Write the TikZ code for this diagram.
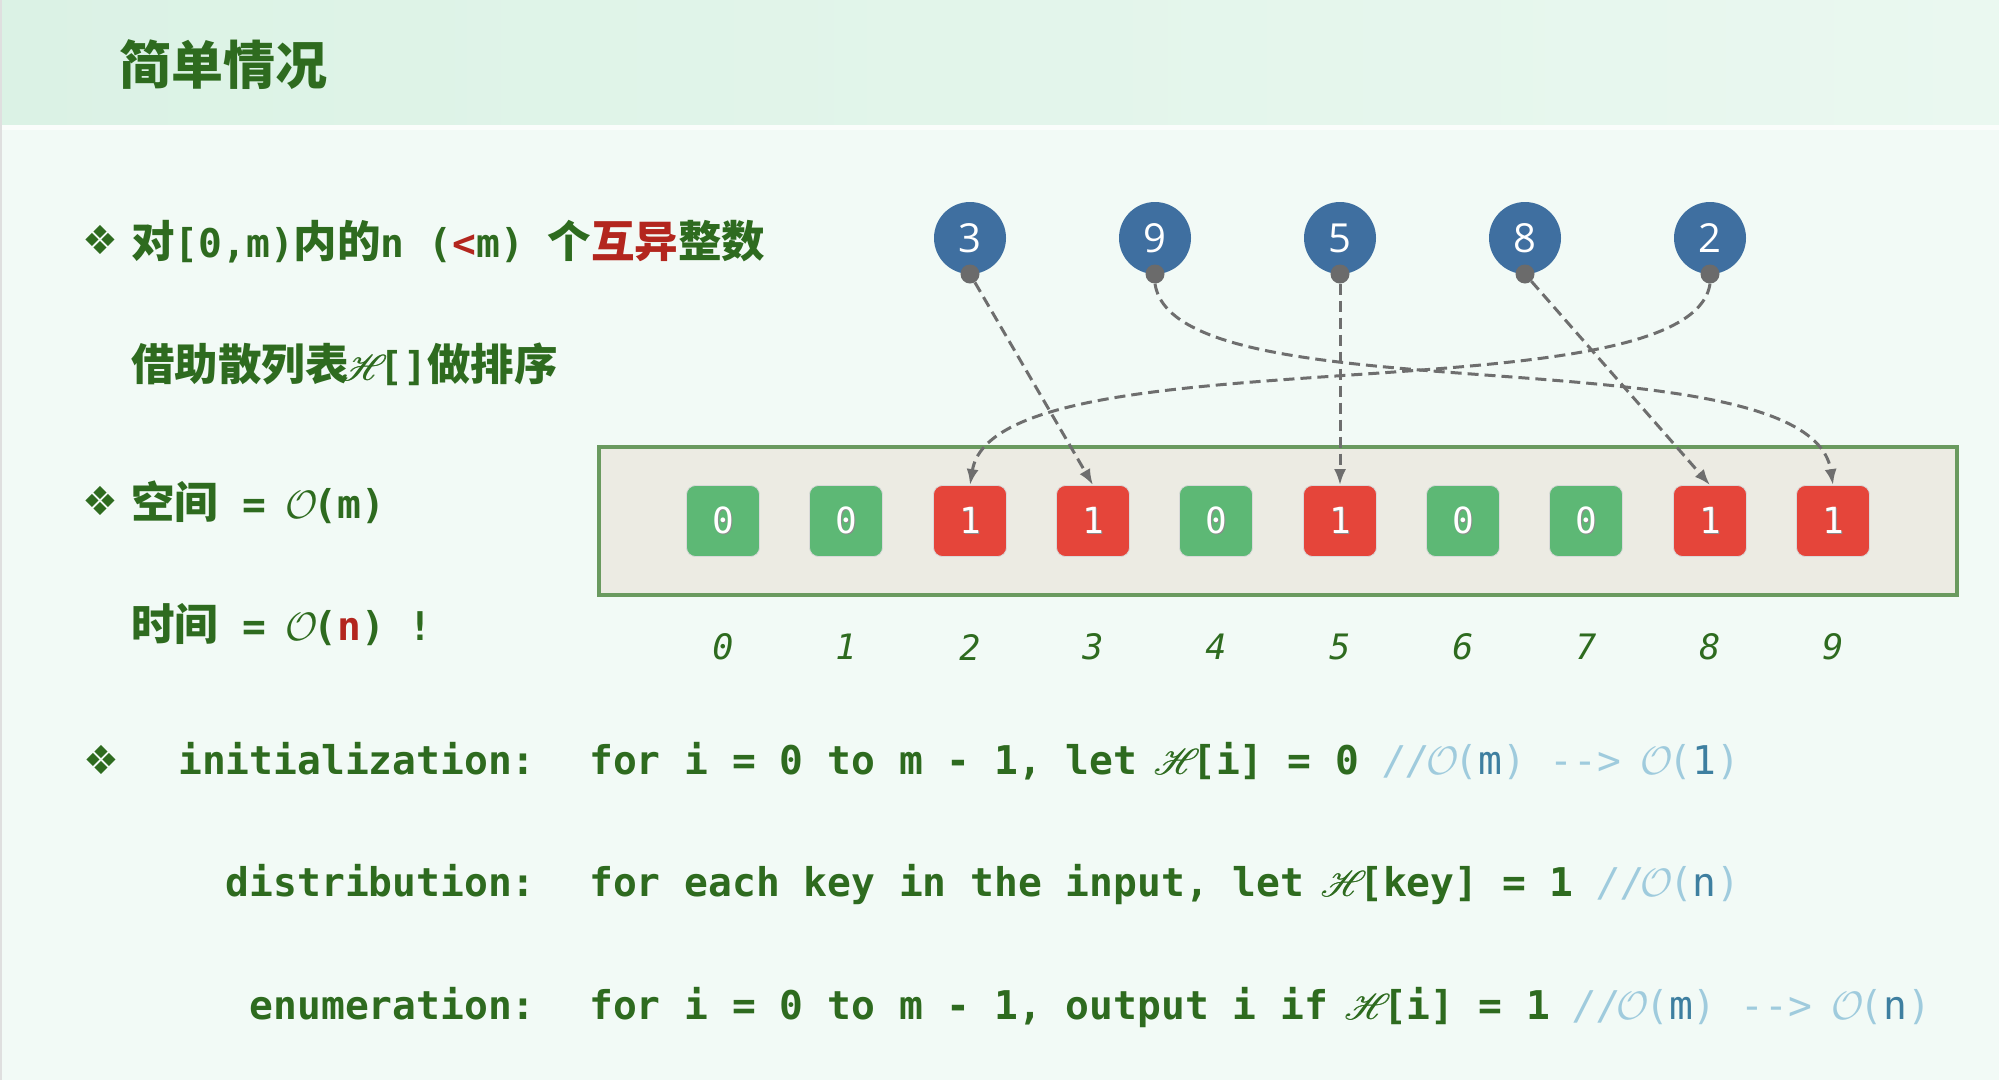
\documentclass[tikz,border=0pt]{standalone}
\usepackage{fix-cm}
\usepackage{fontspec}
\usepackage{mathrsfs}
\usetikzlibrary{arrows.meta}
\newfontfamily\cjk{Noto Sans CJK SC}
\newfontfamily\mono{DejaVu Sans Mono}
\newfontfamily\symf{DejaVu Sans}
\newfontfamily\digf{Open Sans}
\definecolor{tgreen}{HTML}{2E6B1F}
\definecolor{tred}{HTML}{B3261E}
\definecolor{bgc}{HTML}{F2FAF6}
\definecolor{bandl}{HTML}{DBF2E5}
\definecolor{bandr}{HTML}{EAF8F0}
\definecolor{keyblue}{HTML}{3F6FA0}
\definecolor{dotgray}{HTML}{6B6B6B}
\definecolor{conng}{HTML}{6E6E6E}
\definecolor{framegreen}{HTML}{6A9A5F}
\definecolor{framefill}{HTML}{ECEBE3}
\definecolor{cellgreen}{HTML}{5DB875}
\definecolor{cellred}{HTML}{E5453A}
\definecolor{cmt}{HTML}{9FCBDD}
\definecolor{cmd}{HTML}{3E7FA0}
\newcommand\cj[1]{{\cjk\bfseries\fontsize{43.5}{50}\selectfont #1}}
\newcommand\mo[1]{{\mono\bfseries\fontsize{39.6}{45}\selectfont #1}}
\newcommand\Hc{\makebox[0.78em]{\scalebox{1.45}{\rlap{$\mathscr{H}$}\kern0.5pt$\mathscr{H}$}}}
\newcommand\Oc{\makebox[0.6em]{$\mathcal{O}$}}
\newcommand\dsh{-\kern0pt-\kern0pt>}
\newcommand\shd[1]{\makebox[0pt][l]{\hspace{1.5pt}\raisebox{-1.5pt}{\textcolor{black!45}{#1}}}\textcolor{white}{#1}}
\tikzset{
  keyc/.style={circle, fill=keyblue, minimum size=72pt, inner sep=0pt, text=white, font=\digf\fontsize{40}{40}\selectfont},
  dotc/.style={circle, fill=dotgray, minimum size=19pt, inner sep=0pt},
  cellbox/.style={rounded corners=9pt, minimum width=73pt, minimum height=71pt, inner sep=0pt, draw=white!70!gray, line width=0.8pt, font=\mono\fontsize{36}{36}\selectfont},
  cellg/.style={cellbox, fill=cellgreen},
  cellr/.style={cellbox, fill=cellred},
  idx/.style={text=tgreen, font=\mono\itshape\fontsize{35}{35}\selectfont, inner sep=0pt},
  conn/.style={draw=conng, line width=3pt, dash pattern=on 11pt off 6pt, -{Latex[length=16pt,width=12pt]}},
  txt/.style={text=tgreen, inner sep=0pt, anchor=base west},
  lbl/.style={text=tgreen, inner sep=0pt, anchor=base east},
  bul/.style={text=tgreen, inner sep=0pt, font=\symf\fontsize{40}{40}\selectfont}
}
\begin{document}
\begin{tikzpicture}[x=1pt,y=-1pt]
\path[use as bounding box] (0,0) rectangle (1999,1080);
\fill[bgc] (0,0) rectangle (1999,1080);
\shade[left color=bandl, right color=bandr] (0,0) rectangle (1999,125);
\fill[white!60!bgc] (0,125) rectangle (1999,130);
\fill[gray!25] (0,0) rectangle (2,1080);
% title
\node[txt] (title) at (119,84) {{\cjk\bfseries\fontsize{52}{60}\selectfont 简单情况}};
% left text
\node[bul] (b1) at (100,240) {❖};
\node[txt] (l1) at (131,257) {\cj{对}\mo{[0,m)}\cj{内的}\mo{n (\textcolor{tred}{<}m) }\cj{个\textcolor{tred}{互异}整数}};
\node[txt] (l2) at (131,380) {\cj{借助散列表}\mo{\Hc[]}\cj{做排序}};
\node[bul] (b2) at (100,501) {❖};
\node[txt] (l3) at (131,518) {\cj{空间}\mo{ = \Oc(m)}};
\node[txt] (l4) at (131,640) {\cj{时间}\mo{ = \Oc(\textcolor{tred}{n}) !}};
% code lines
\node[bul] (b3) at (101,760) {❖};
\node[lbl] (c1l) at (536,774) {\mo{initialization:}};
\node[txt] (c1) at (589,774) {\mo{for i = 0 to m - 1, let \Hc[i] = 0 {\mdseries\color{cmt}{\itshape //}\Oc(\textcolor{cmd}{m}) \dsh{} \Oc(\textcolor{cmd}{1})}}};
\node[lbl] (c2l) at (536,896) {\mo{distribution:}};
\node[txt] (c2) at (589,896) {\mo{for each key in the input, let \Hc[key] = 1 {\mdseries\color{cmt}{\itshape //}\Oc(\textcolor{cmd}{n})}}};
\node[lbl] (c3l) at (536,1019) {\mo{enumeration:}};
\node[txt] (c3) at (589,1019) {\mo{for i = 0 to m - 1, output i if \Hc[i] = 1 {\mdseries\color{cmt}{\itshape //}\Oc(\textcolor{cmd}{m}) \dsh{} \Oc(\textcolor{cmd}{n})}}};
% array frame
\node[draw=framegreen, line width=4pt, fill=framefill, minimum width=1358pt, minimum height=148pt, inner sep=0pt] (arr) at (1278,521) {};
% cells
\node[cellg] (a0) at (723,521) {\shd{0}};
\node[cellg] (a1) at (846,521) {\shd{0}};
\node[cellr] (a2) at (970,521) {\shd{1}};
\node[cellr] (a3) at (1093,521) {\shd{1}};
\node[cellg] (a4) at (1216,521) {\shd{0}};
\node[cellr] (a5) at (1340,521) {\shd{1}};
\node[cellg] (a6) at (1463,521) {\shd{0}};
\node[cellg] (a7) at (1586,521) {\shd{0}};
\node[cellr] (a8) at (1710,521) {\shd{1}};
\node[cellr] (a9) at (1833,521) {\shd{1}};
% indices
\node[idx] (i0) at (723,647) {0};
\node[idx] (i1) at (846,647) {1};
\node[idx] (i2) at (970,647) {2};
\node[idx] (i3) at (1093,647) {3};
\node[idx] (i4) at (1216,647) {4};
\node[idx] (i5) at (1340,647) {5};
\node[idx] (i6) at (1463,647) {6};
\node[idx] (i7) at (1586,647) {7};
\node[idx] (i8) at (1710,647) {8};
\node[idx] (i9) at (1833,647) {9};
% keys
\node[keyc] (k1) at (970,238) {3};
\node[keyc] (k2) at (1155,238) {9};
\node[keyc] (k3) at (1340,238) {5};
\node[keyc] (k4) at (1525,238) {8};
\node[keyc] (k5) at (1710,238) {2};
\node[dotc] (d1) at (970,274) {};
\node[dotc] (d2) at (1155,274) {};
\node[dotc] (d3) at (1340,274) {};
\node[dotc] (d4) at (1525,274) {};
\node[dotc] (d5) at (1710,274) {};
% connectors
\draw[conn] (d1) -- (a3.north);
\draw[conn] (d3) -- (a5.north);
\draw[conn] (d4) -- (a8.north);
\draw[conn] (d2.south) .. controls (1175,420) and (1810,330) .. (a9.north);
\draw[conn] (d5.south) .. controls (1690,420) and (995,330) .. (a2.north);
\end{tikzpicture}
\end{document}
